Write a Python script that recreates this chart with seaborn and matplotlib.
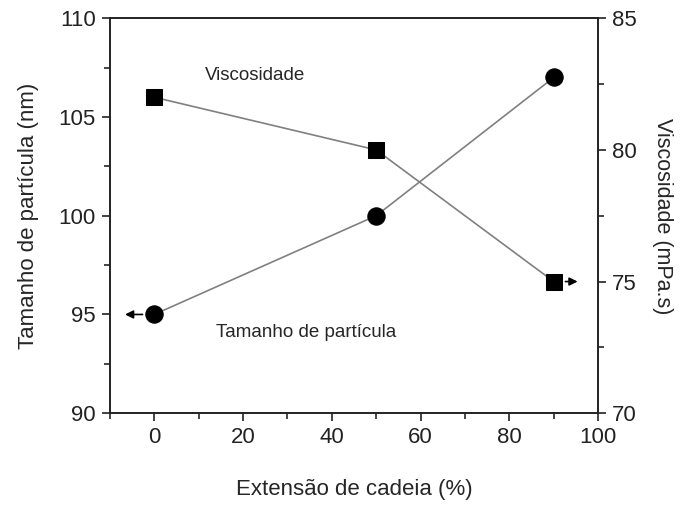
import pandas as pd
import seaborn as sns
import matplotlib.pyplot as plt
from matplotlib.ticker import MultipleLocator

# dados
extensao = [0, 50, 90]
tamanho = [95.0, 100.0, 107.0]
viscosidade = [82.0, 80.0, 75.0]

df = pd.DataFrame({'ext': extensao, 'tam': tamanho, 'visc': viscosidade})

sns.set_style('ticks')
plt.rcParams['font.family'] = ['Liberation Sans', 'DejaVu Sans']

fig = plt.figure(figsize=(6.82, 5.07), dpi=100)
ax = fig.add_axes([0.161, 0.185, 0.716, 0.779])
ax2 = ax.twinx()

sns.lineplot(data=df, x='ext', y='tam', ax=ax, color='#808080', lw=1.2,
             marker='o', markersize=12.5, markerfacecolor='black',
             markeredgecolor='black')
sns.lineplot(data=df, x='ext', y='visc', ax=ax2, color='#808080', lw=1.2,
             marker='s', markersize=11.5, markerfacecolor='black',
             markeredgecolor='black')

ax.set_xlim(-10, 100)
ax.set_ylim(90, 110)
ax2.set_ylim(70, 85)

ax.xaxis.set_major_locator(MultipleLocator(20))
ax.xaxis.set_minor_locator(MultipleLocator(10))
ax.yaxis.set_major_locator(MultipleLocator(5))
ax.yaxis.set_minor_locator(MultipleLocator(2.5))
ax2.yaxis.set_major_locator(MultipleLocator(5))
ax2.yaxis.set_minor_locator(MultipleLocator(2.5))

for a in (ax, ax2):
    a.tick_params(which='major', direction='out', length=6, width=1.2,
                  labelsize=16, colors='#222222', pad=4)
    a.tick_params(which='minor', direction='out', length=4, width=1.2)
    for s in a.spines.values():
        s.set_linewidth(1.2)
        s.set_color('#222222')
        s.set_visible(True)

ax.set_xlabel('Extensão de cadeia (%)', fontsize=16, labelpad=22)
ax.set_ylabel('Tamanho de partícula (nm)', fontsize=16, labelpad=14)
ax2.set_ylabel('Viscosidade (mPa.s)', fontsize=15.5, rotation=270, labelpad=26)

ax.text(22.7, 107.1, 'Viscosidade', fontsize=13.5, ha='center', va='center')
ax.text(34.2, 94.1, 'Tamanho de partícula', fontsize=13.5, ha='center', va='center')

# setas indicando o eixo de cada série
ax.annotate('', xy=(-7.2, tamanho[0]), xytext=(-2.0, tamanho[0]),
            arrowprops=dict(arrowstyle='-|>', color='black', lw=1.2,
                            mutation_scale=12))
ax2.annotate('', xy=(96.0, viscosidade[-1]), xytext=(92.0, viscosidade[-1]),
             arrowprops=dict(arrowstyle='-|>', color='black', lw=1.2,
                             mutation_scale=12))

fig.savefig('out.png', dpi=100)
plt.close()
